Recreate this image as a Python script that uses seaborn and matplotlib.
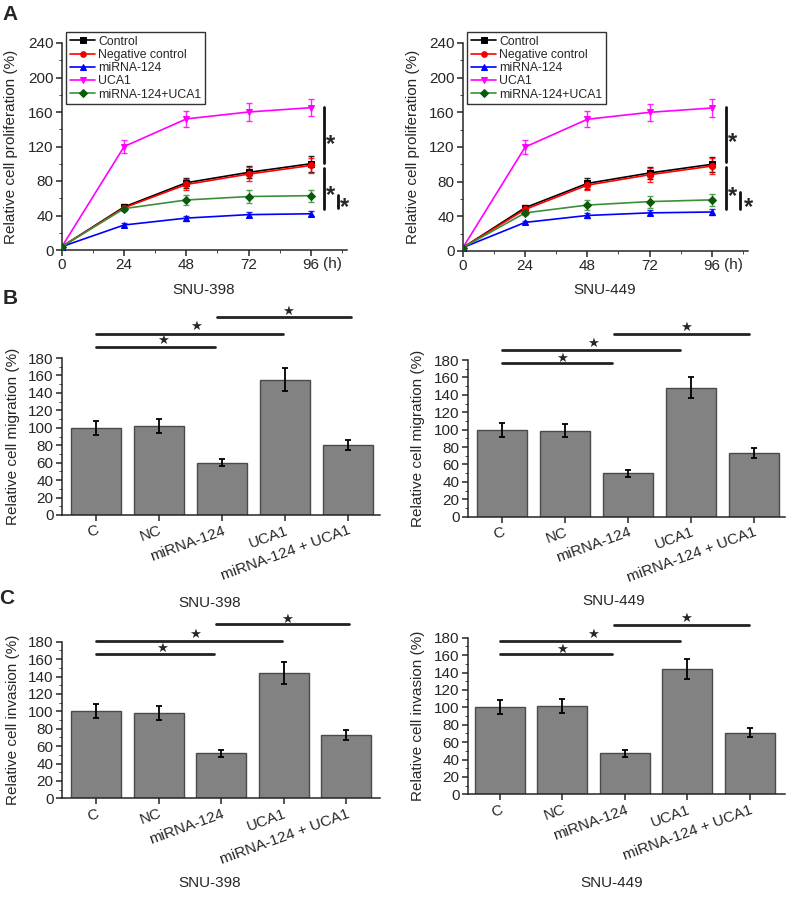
import matplotlib
matplotlib.use("Agg")
import matplotlib.pyplot as plt
import seaborn as sns
from matplotlib.ticker import MultipleLocator

W, H = 787, 899

# ---- data ----
hours = [0, 24, 48, 72, 96]
series_names = ["Control", "Negative control", "miRNA-124", "UCA1", "miRNA-124+UCA1"]
series_colors = ["#000000", "#ff0000", "#0000ff", "#ff00ff", "#3a913a"]
marker_colors = ["#000000", "#ee0000", "#0000ff", "#ff00ff", "#0a5a0a"]
series_markers = ["s", "o", "^", "v", "D"]

prolif_398 = [
    [4, 50, 78, 90, 100],
    [4, 49, 76, 88, 98],
    [4, 29, 37, 41, 42],
    [4, 120, 152, 160, 165],
    [4, 48, 58, 62, 63],
]
prolif_398_err = [
    [1, 3, 6, 7, 9],
    [1, 3, 6, 8, 9],
    [1, 2, 3, 3, 3],
    [1, 8, 9, 10, 10],
    [1, 3, 6, 7, 7],
]
prolif_449 = [
    [4, 50, 78, 90, 100],
    [4, 48, 76, 88, 98],
    [4, 33, 41, 44, 45],
    [4, 120, 152, 160, 165],
    [4, 44, 53, 57, 59],
]
prolif_449_err = [
    [1, 3, 6, 7, 9],
    [1, 3, 6, 8, 9],
    [1, 2, 3, 3, 3],
    [1, 8, 9, 10, 10],
    [1, 3, 6, 7, 7],
]

groups = ["C", "NC", "miRNA-124", "UCA1", "miRNA-124 + UCA1"]
mig_398 = [100, 102, 60, 155, 80]
mig_398_err = [8, 8, 4, 13, 6]
mig_449 = [100, 99, 50, 148, 73]
mig_449_err = [8, 8, 4, 12, 6]
inv_398 = [100, 98, 52, 144, 73]
inv_398_err = [8, 8, 4, 13, 6]
inv_449 = [100, 101, 47, 144, 71]
inv_449_err = [8, 8, 4, 12, 5]

sns.set_style("ticks")
plt.rcParams["font.family"] = ["Liberation Sans", "DejaVu Sans"]
plt.rcParams["axes.linewidth"] = 1.1
plt.rcParams["xtick.major.width"] = 1.1
plt.rcParams["ytick.major.width"] = 1.1

fig = plt.figure(figsize=(W / 100, H / 100), dpi=100)


def px_axes(x0, y0, x1, y1):
    return fig.add_axes([x0 / W, 1 - y1 / H, (x1 - x0) / W, (y1 - y0) / H])


def star(ax, x, y, txt="*", size=15, dy=-0.59, bold=True):
    # put the ink centre of the glyph on (x, y)
    ax.annotate(txt, xy=(x, y), xytext=(0, dy * size), textcoords="offset points",
                ha="center", va="baseline", fontsize=size,
                fontweight="bold" if bold else "normal", annotation_clip=False)


def prolif_panel(box, vals, errs, label_x, brackets):
    ax = px_axes(*box)
    for name, col, mcol, mk, v, e in zip(series_names, series_colors, marker_colors,
                                         series_markers, vals, errs):
        ax.errorbar(hours, v, yerr=e, fmt="none", ecolor=col, elinewidth=1, capsize=2.5,
                    alpha=0.85, zorder=2)
        sns.lineplot(x=hours, y=v, color=col, marker=mk, markersize=4.5, markerfacecolor=mcol,
                     markeredgecolor=mcol, linewidth=1.2, label=name, ax=ax, zorder=3)
    ax.set_xlim(0, 110)
    ax.set_ylim(0, 240)
    ax.set_xticks(hours)
    ax.xaxis.set_minor_locator(MultipleLocator(12))
    ax.yaxis.set_major_locator(MultipleLocator(40))
    ax.yaxis.set_minor_locator(MultipleLocator(20))
    ax.tick_params(axis="both", which="major", labelsize=11, length=4, pad=2)
    ax.tick_params(axis="both", which="minor", length=2.5)
    sns.despine(ax=ax)
    ax.set_ylabel("Relative cell proliferation (%)", fontsize=11)
    ax.yaxis.set_label_coords((label_x - box[0]) / (box[2] - box[0]), 0.5)
    ax.set_xlabel("")
    ax.text(104.5, -0.035, "(h)", transform=ax.get_xaxis_transform(), ha="center", va="top", fontsize=11)
    ax.legend(loc="upper left", bbox_to_anchor=(4 / 285, 1 + 11 / 207), frameon=True, fancybox=False,
              edgecolor="#333333", fontsize=8.8, handlelength=2.1, labelspacing=0.1, borderpad=0.3,
              handletextpad=0.25, borderaxespad=0, framealpha=1, markerscale=0.9)
    ax.get_legend().get_frame().set_linewidth(1.0)
    for (bx, y0, y1, sx, sy) in brackets:
        ax.plot([bx, bx], [y0, y1], color="#111111", lw=2, clip_on=False)
        star(ax, sx, sy, size=17)
    return ax


def bar_panel(box, vals, errs, ylabel, label_x, xlim, brackets):
    ax = px_axes(*box)
    sns.barplot(x=groups, y=vals, color="#828282", edgecolor="#4a4a4a", linewidth=1.0,
                width=0.8, saturation=1, ax=ax)
    ax.errorbar(range(len(groups)), vals, yerr=errs, fmt="none", ecolor="black",
                elinewidth=1.3, capsize=2.5, capthick=1.3)
    ax.set_xlim(*xlim)
    ax.set_ylim(0, 180)
    ax.yaxis.set_major_locator(MultipleLocator(20))
    ax.yaxis.set_minor_locator(MultipleLocator(10))
    ax.tick_params(axis="both", which="major", labelsize=11, length=4, pad=2)
    ax.tick_params(axis="y", which="minor", length=2.5)
    plt.setp(ax.get_xticklabels(), rotation=20, ha="right", rotation_mode="anchor")
    sns.despine(ax=ax)
    ax.set_ylabel(ylabel, fontsize=11)
    ax.yaxis.set_label_coords((label_x - box[0]) / (box[2] - box[0]), 0.5)
    for (x0, x1, y, sx, sy) in brackets:
        ax.plot([x0, x1], [y, y], color="#222222", lw=2, clip_on=False)
        star(ax, sx, sy, txt="\u2605", size=9.5, dy=-0.35, bold=False)
    return ax


prolif_panel((62, 43, 347, 250), prolif_398, prolif_398_err, 18,
             [(101, 101, 166, 103.5, 131), (101, 48, 95, 103.5, 72), (106.5, 49, 64, 109, 58)])
prolif_panel((463, 43, 748, 251), prolif_449, prolif_449_err, 420,
             [(101.4, 103, 166, 104, 134), (101.4, 49, 97, 104, 72), (106.8, 49, 68, 110, 59)])

bar_panel((62, 358, 380, 515), mig_398, mig_398_err, "Relative cell migration (%)", 20,
          (-0.54, 4.51),
          [(0, 1.89, 193, 1.06, 201), (0, 2.97, 208, 1.59, 218), (1.92, 4.05, 227, 3.05, 235)])
bar_panel((468, 360, 785, 516.7), mig_449, mig_449_err, "Relative cell migration (%)", 425,
          (-0.54, 4.49),
          [(0, 1.75, 176, 0.95, 183), (0, 2.83, 191, 1.44, 200), (1.78, 3.92, 210, 2.92, 219)])
bar_panel((62, 641.7, 380, 798.3), inv_398, inv_398_err, "Relative cell invasion (%)", 20,
          (-0.544, 4.54),
          [(0, 1.89, 165.5, 1.06, 173), (0, 2.97, 181, 1.59, 190), (1.92, 4.05, 200, 3.05, 207)])
bar_panel((468, 637.7, 785, 794.3), inv_449, inv_449_err, "Relative cell invasion (%)", 425,
          (-0.51, 4.56),
          [(0, 1.79, 161, 0.99, 168), (0, 2.88, 176, 1.49, 185), (1.82, 3.98, 195, 2.98, 203)])

# cell line names and panel letters
for txt, x, y in [("SNU-398", 204, 290), ("SNU-449", 605, 290),
                  ("SNU-398", 210, 603), ("SNU-449", 614, 601),
                  ("SNU-398", 210, 883), ("SNU-449", 612, 883)]:
    fig.text(x / W, 1 - y / H, txt, ha="center", va="center", fontsize=11)
for txt, x, y in [("A", 10, 14), ("B", 10, 298), ("C", 7, 598)]:
    fig.text(x / W, 1 - y / H, txt, ha="center", va="center", fontsize=15, fontweight="bold")

fig.savefig("out.png", dpi=100)
